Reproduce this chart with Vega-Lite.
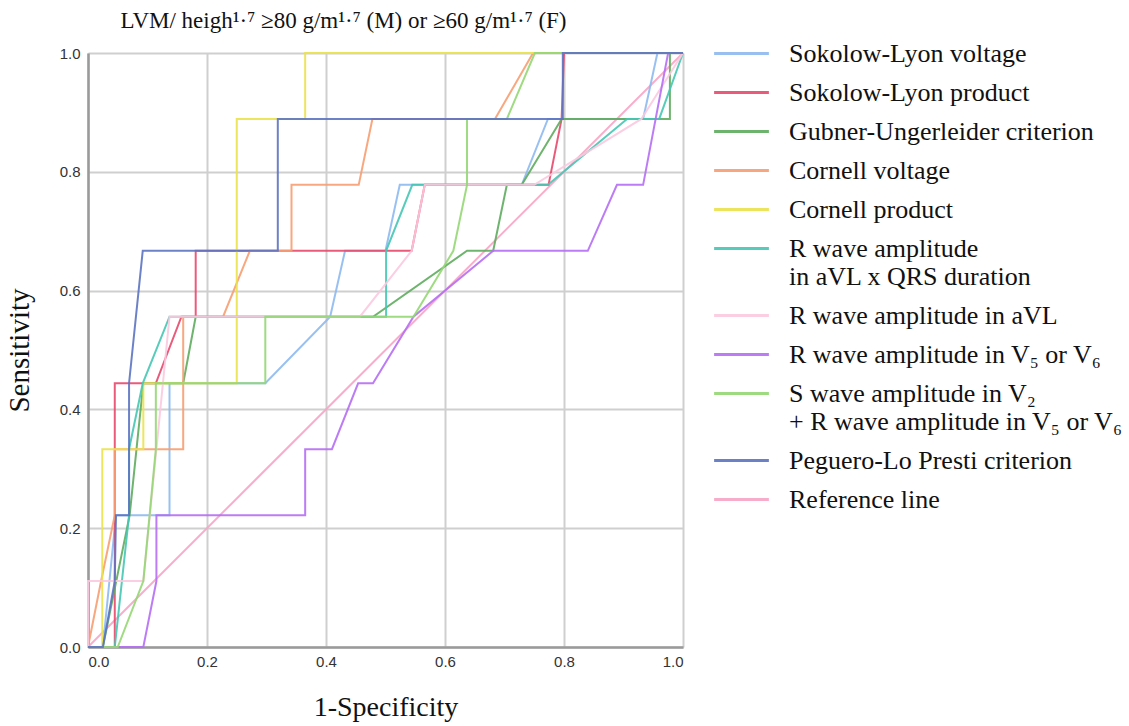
{
  "$schema": "https://vega.github.io/schema/vega-lite/v6.json",
  "width": 595,
  "height": 594,
  "autosize": {"type": "none"},
  "padding": {"left": 88, "top": 53, "right": 446, "bottom": 79},
  "background": "white",
  "title": {
    "text": "LVM/ heigh¹·⁷ ≥80 g/m¹·⁷ (M) or ≥60 g/m¹·⁷ (F)",
    "font": "Liberation Serif",
    "fontSize": 23,
    "fontWeight": "normal",
    "color": "#111",
    "anchor": "middle",
    "dx": -42,
    "offset": 5
  },
  "datasets": {
    "names": [
      {"k": "A", "name": "Sokolow-Lyon voltage"},
      {"k": "B", "name": "Sokolow-Lyon product"},
      {"k": "C", "name": "Gubner-Ungerleider criterion"},
      {"k": "D", "name": "Cornell voltage"},
      {"k": "E", "name": "Cornell product"},
      {"k": "F", "name": "R wave amplitude in aVL x QRS duration"},
      {"k": "G", "name": "R wave amplitude in aVL"},
      {"k": "H", "name": "R wave amplitude in V₅ or V₆"},
      {"k": "I", "name": "S wave amplitude in V₂ + R wave amplitude in V₅ or V₆"},
      {"k": "J", "name": "Peguero-Lo Presti criterion"},
      {"k": "K", "name": "Reference line"}
    ]
  },
  "data": {
    "values": [
      {"k": "K", "i": 0, "x": 0, "y": 0},
      {"k": "K", "i": 1, "x": 1, "y": 1},

      {"k": "A", "i": 0, "x": 0, "y": 0},
      {"k": "A", "i": 1, "x": 0.025, "y": 0},
      {"k": "A", "i": 2, "x": 0.047, "y": 0.222},
      {"k": "A", "i": 3, "x": 0.137, "y": 0.222},
      {"k": "A", "i": 4, "x": 0.137, "y": 0.444},
      {"k": "A", "i": 5, "x": 0.298, "y": 0.444},
      {"k": "A", "i": 6, "x": 0.407, "y": 0.556},
      {"k": "A", "i": 7, "x": 0.432, "y": 0.667},
      {"k": "A", "i": 8, "x": 0.5, "y": 0.667},
      {"k": "A", "i": 9, "x": 0.524, "y": 0.778},
      {"k": "A", "i": 10, "x": 0.729, "y": 0.778},
      {"k": "A", "i": 11, "x": 0.773, "y": 0.889},
      {"k": "A", "i": 12, "x": 0.933, "y": 0.889},
      {"k": "A", "i": 13, "x": 0.957, "y": 1},
      {"k": "A", "i": 14, "x": 1, "y": 1},

      {"k": "B", "i": 0, "x": 0, "y": 0},
      {"k": "B", "i": 1, "x": 0.045, "y": 0},
      {"k": "B", "i": 2, "x": 0.045, "y": 0.444},
      {"k": "B", "i": 3, "x": 0.114, "y": 0.444},
      {"k": "B", "i": 4, "x": 0.157, "y": 0.556},
      {"k": "B", "i": 5, "x": 0.181, "y": 0.556},
      {"k": "B", "i": 6, "x": 0.181, "y": 0.667},
      {"k": "B", "i": 7, "x": 0.544, "y": 0.667},
      {"k": "B", "i": 8, "x": 0.566, "y": 0.778},
      {"k": "B", "i": 9, "x": 0.774, "y": 0.778},
      {"k": "B", "i": 10, "x": 0.796, "y": 0.889},
      {"k": "B", "i": 11, "x": 0.8, "y": 1},
      {"k": "B", "i": 12, "x": 1, "y": 1},

      {"k": "C", "i": 0, "x": 0, "y": 0},
      {"k": "C", "i": 1, "x": 0.025, "y": 0},
      {"k": "C", "i": 2, "x": 0.07, "y": 0.222},
      {"k": "C", "i": 3, "x": 0.093, "y": 0.444},
      {"k": "C", "i": 4, "x": 0.16, "y": 0.444},
      {"k": "C", "i": 5, "x": 0.181, "y": 0.556},
      {"k": "C", "i": 6, "x": 0.479, "y": 0.556},
      {"k": "C", "i": 7, "x": 0.637, "y": 0.667},
      {"k": "C", "i": 8, "x": 0.681, "y": 0.667},
      {"k": "C", "i": 9, "x": 0.704, "y": 0.778},
      {"k": "C", "i": 10, "x": 0.729, "y": 0.778},
      {"k": "C", "i": 11, "x": 0.796, "y": 0.889},
      {"k": "C", "i": 12, "x": 0.978, "y": 0.889},
      {"k": "C", "i": 13, "x": 0.978, "y": 1},
      {"k": "C", "i": 14, "x": 1, "y": 1},

      {"k": "D", "i": 0, "x": 0, "y": 0},
      {"k": "D", "i": 1, "x": 0.022, "y": 0.111},
      {"k": "D", "i": 2, "x": 0.045, "y": 0.222},
      {"k": "D", "i": 3, "x": 0.045, "y": 0.333},
      {"k": "D", "i": 4, "x": 0.16, "y": 0.333},
      {"k": "D", "i": 5, "x": 0.16, "y": 0.556},
      {"k": "D", "i": 6, "x": 0.227, "y": 0.556},
      {"k": "D", "i": 7, "x": 0.272, "y": 0.667},
      {"k": "D", "i": 8, "x": 0.342, "y": 0.667},
      {"k": "D", "i": 9, "x": 0.342, "y": 0.778},
      {"k": "D", "i": 10, "x": 0.455, "y": 0.778},
      {"k": "D", "i": 11, "x": 0.478, "y": 0.889},
      {"k": "D", "i": 12, "x": 0.684, "y": 0.889},
      {"k": "D", "i": 13, "x": 0.748, "y": 1},
      {"k": "D", "i": 14, "x": 1, "y": 1},

      {"k": "E", "i": 0, "x": 0, "y": 0},
      {"k": "E", "i": 1, "x": 0.024, "y": 0},
      {"k": "E", "i": 2, "x": 0.024, "y": 0.333},
      {"k": "E", "i": 3, "x": 0.093, "y": 0.333},
      {"k": "E", "i": 4, "x": 0.093, "y": 0.444},
      {"k": "E", "i": 5, "x": 0.25, "y": 0.444},
      {"k": "E", "i": 6, "x": 0.25, "y": 0.889},
      {"k": "E", "i": 7, "x": 0.365, "y": 0.889},
      {"k": "E", "i": 8, "x": 0.365, "y": 1},
      {"k": "E", "i": 9, "x": 1, "y": 1},

      {"k": "F", "i": 0, "x": 0, "y": 0},
      {"k": "F", "i": 1, "x": 0.045, "y": 0},
      {"k": "F", "i": 2, "x": 0.069, "y": 0.222},
      {"k": "F", "i": 3, "x": 0.069, "y": 0.333},
      {"k": "F", "i": 4, "x": 0.092, "y": 0.444},
      {"k": "F", "i": 5, "x": 0.137, "y": 0.556},
      {"k": "F", "i": 6, "x": 0.501, "y": 0.556},
      {"k": "F", "i": 7, "x": 0.501, "y": 0.667},
      {"k": "F", "i": 8, "x": 0.545, "y": 0.778},
      {"k": "F", "i": 9, "x": 0.773, "y": 0.778},
      {"k": "F", "i": 10, "x": 0.906, "y": 0.889},
      {"k": "F", "i": 11, "x": 0.96, "y": 0.889},
      {"k": "F", "i": 12, "x": 1, "y": 1},

      {"k": "G", "i": 0, "x": 0, "y": 0},
      {"k": "G", "i": 1, "x": 0, "y": 0.111},
      {"k": "G", "i": 2, "x": 0.093, "y": 0.111},
      {"k": "G", "i": 3, "x": 0.137, "y": 0.556},
      {"k": "G", "i": 4, "x": 0.457, "y": 0.556},
      {"k": "G", "i": 5, "x": 0.544, "y": 0.667},
      {"k": "G", "i": 6, "x": 0.566, "y": 0.778},
      {"k": "G", "i": 7, "x": 0.75, "y": 0.778},
      {"k": "G", "i": 8, "x": 0.93, "y": 0.889},
      {"k": "G", "i": 9, "x": 1, "y": 1},

      {"k": "H", "i": 0, "x": 0, "y": 0},
      {"k": "H", "i": 1, "x": 0.093, "y": 0},
      {"k": "H", "i": 2, "x": 0.115, "y": 0.111},
      {"k": "H", "i": 3, "x": 0.115, "y": 0.222},
      {"k": "H", "i": 4, "x": 0.365, "y": 0.222},
      {"k": "H", "i": 5, "x": 0.365, "y": 0.333},
      {"k": "H", "i": 6, "x": 0.41, "y": 0.333},
      {"k": "H", "i": 7, "x": 0.454, "y": 0.444},
      {"k": "H", "i": 8, "x": 0.479, "y": 0.444},
      {"k": "H", "i": 9, "x": 0.547, "y": 0.556},
      {"k": "H", "i": 10, "x": 0.681, "y": 0.667},
      {"k": "H", "i": 11, "x": 0.84, "y": 0.667},
      {"k": "H", "i": 12, "x": 0.889, "y": 0.778},
      {"k": "H", "i": 13, "x": 0.933, "y": 0.778},
      {"k": "H", "i": 14, "x": 0.975, "y": 1},
      {"k": "H", "i": 15, "x": 1, "y": 1},

      {"k": "I", "i": 0, "x": 0, "y": 0},
      {"k": "I", "i": 1, "x": 0.05, "y": 0},
      {"k": "I", "i": 2, "x": 0.093, "y": 0.111},
      {"k": "I", "i": 3, "x": 0.114, "y": 0.333},
      {"k": "I", "i": 4, "x": 0.114, "y": 0.444},
      {"k": "I", "i": 5, "x": 0.298, "y": 0.444},
      {"k": "I", "i": 6, "x": 0.298, "y": 0.556},
      {"k": "I", "i": 7, "x": 0.547, "y": 0.556},
      {"k": "I", "i": 8, "x": 0.614, "y": 0.667},
      {"k": "I", "i": 9, "x": 0.637, "y": 0.778},
      {"k": "I", "i": 10, "x": 0.637, "y": 0.889},
      {"k": "I", "i": 11, "x": 0.704, "y": 0.889},
      {"k": "I", "i": 12, "x": 0.751, "y": 1},
      {"k": "I", "i": 13, "x": 1, "y": 1},

      {"k": "J", "i": 0, "x": 0, "y": 0},
      {"k": "J", "i": 1, "x": 0.025, "y": 0},
      {"k": "J", "i": 2, "x": 0.045, "y": 0.111},
      {"k": "J", "i": 3, "x": 0.047, "y": 0.222},
      {"k": "J", "i": 4, "x": 0.069, "y": 0.222},
      {"k": "J", "i": 5, "x": 0.069, "y": 0.444},
      {"k": "J", "i": 6, "x": 0.092, "y": 0.667},
      {"k": "J", "i": 7, "x": 0.319, "y": 0.667},
      {"k": "J", "i": 8, "x": 0.319, "y": 0.889},
      {"k": "J", "i": 9, "x": 0.798, "y": 0.889},
      {"k": "J", "i": 10, "x": 0.798, "y": 1},
      {"k": "J", "i": 11, "x": 1, "y": 1}
    ]
  },
  "transform": [
    {"lookup": "k", "from": {"data": {"name": "names"}, "key": "k", "fields": ["name"]}}
  ],
  "mark": {"type": "line", "strokeWidth": 2, "opacity": 0.9, "interpolate": "linear"},
  "encoding": {
    "x": {
      "field": "x", "type": "quantitative",
      "scale": {"domain": [0, 1], "nice": false},
      "axis": {
        "values": [0, 0.2, 0.4, 0.6, 0.8, 1],
        "format": ".1f",
        "title": "1-Specificity",
        "titleFont": "Liberation Serif", "titleFontSize": 28, "titleFontWeight": "normal", "titleColor": "#111",
        "titlePadding": 24,
        "labelFont": "Liberation Sans", "labelFontSize": 15, "labelColor": "#333",
        "labelPadding": 7,
        "ticks": false,
        "domainColor": "#9a9a9a", "domainWidth": 2.5,
        "gridColor": "#cfcfcf", "gridWidth": 2
      }
    },
    "y": {
      "field": "y", "type": "quantitative",
      "scale": {"domain": [0, 1], "nice": false},
      "axis": {
        "values": [0, 0.2, 0.4, 0.6, 0.8, 1],
        "format": ".1f",
        "title": "Sensitivity",
        "titleFont": "Liberation Serif", "titleFontSize": 29, "titleFontWeight": "normal", "titleColor": "#111",
        "titlePadding": 25,
        "labelFont": "Liberation Sans", "labelFontSize": 15, "labelColor": "#333",
        "labelPadding": 8,
        "ticks": false,
        "domainColor": "#9a9a9a", "domainWidth": 2.5,
        "gridColor": "#cfcfcf", "gridWidth": 2
      }
    },
    "color": {
      "field": "name", "type": "nominal",
      "scale": {
        "domain": [
          "Sokolow-Lyon voltage",
          "Sokolow-Lyon product",
          "Gubner-Ungerleider criterion",
          "Cornell voltage",
          "Cornell product",
          "R wave amplitude in aVL x QRS duration",
          "R wave amplitude in aVL",
          "R wave amplitude in V₅ or V₆",
          "S wave amplitude in V₂ + R wave amplitude in V₅ or V₆",
          "Peguero-Lo Presti criterion",
          "Reference line"
        ],
        "range": ["#8db9ef", "#e8496d", "#5eab5e", "#f79d70", "#ebe24b", "#45c6b4", "#fbc9de", "#b56ef4", "#93d773", "#5c73c2", "#f7a5c4"]
      },
      "legend": {
        "title": null,
        "orient": "none",
        "legendX": 638,
        "legendY": -15,
        "symbolType": "M-2,0H2",
        "symbolSize": 750,
        "symbolStrokeWidth": 3,
        "labelFont": "Liberation Serif",
        "labelFontSize": 26,
        "labelColor": "#111",
        "labelLimit": 600,
        "labelOffset": 32,
        "rowPadding": 10,
        "labelExpr": "datum.label == 'R wave amplitude in aVL x QRS duration' ? ['R wave amplitude', 'in aVL x QRS duration'] : datum.label == 'S wave amplitude in V₂ + R wave amplitude in V₅ or V₆' ? ['S wave amplitude in V₂', '+ R wave amplitude in V₅ or V₆'] : datum.label"
      }
    },
    "order": {"field": "i", "type": "quantitative"}
  },
  "config": {
    "view": {"stroke": null},
    "axis": {"gridOpacity": 1}
  }
}
